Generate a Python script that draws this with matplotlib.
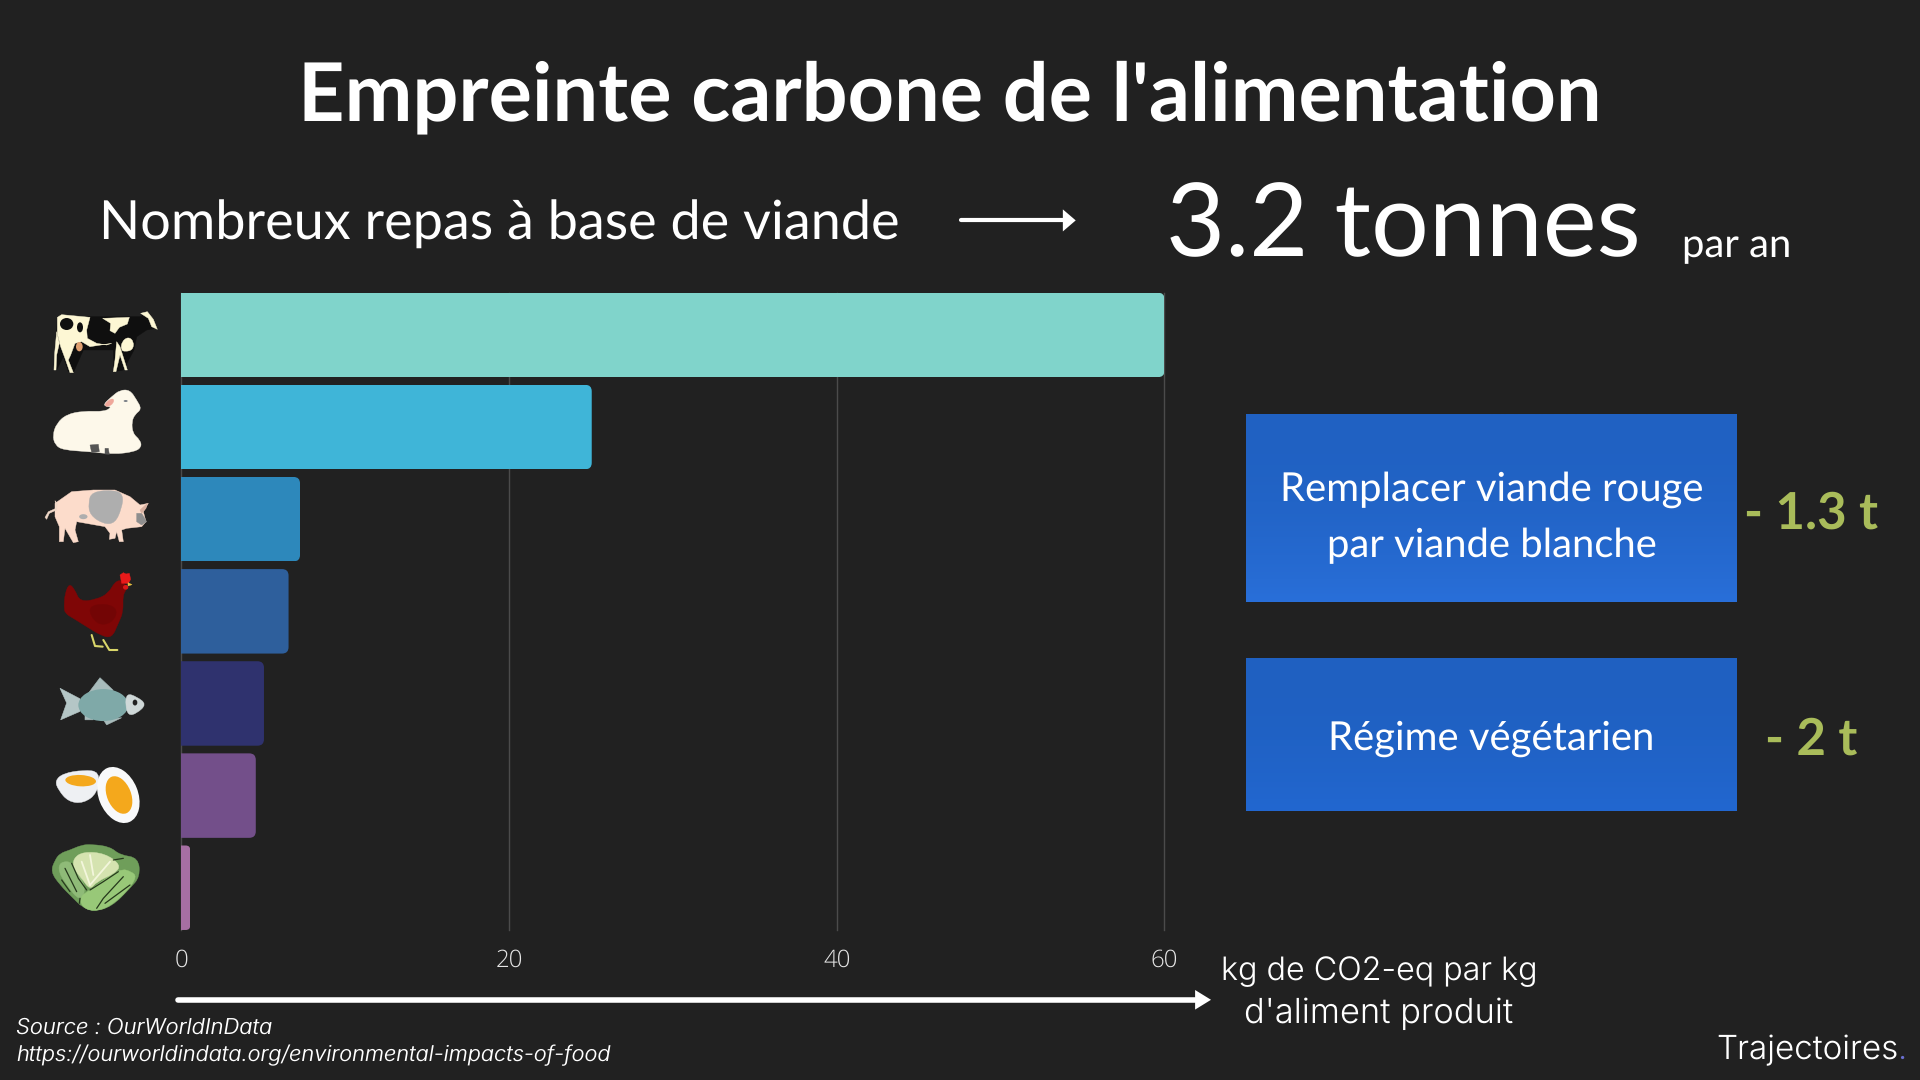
import matplotlib
matplotlib.use("Agg")
import matplotlib.pyplot as plt
from matplotlib.patches import Polygon, Ellipse, FancyBboxPatch, PathPatch
from matplotlib.path import Path
from matplotlib.textpath import TextPath
from matplotlib.font_manager import FontProperties
import numpy as np

plt.rcParams["text.hinting"] = "no_hinting"
plt.rcParams["text.hinting_factor"] = 1

categories = ["Boeuf", "Agneau", "Porc", "Volaille", "Poisson", "Oeufs", "Légumes"]
values = [60.0, 25.05, 7.25, 6.55, 5.05, 4.55, 0.55]
bar_colors = ["#80d4cb", "#3fb5d8", "#2d88bb", "#2e5f9c", "#2f326e", "#734f8a", "#a66fa3"]
xticks = [0, 20, 40, 60]

BG = "#212121"
W, H = 1568.0, 882.0          # layout units of the slide
fig = plt.figure(figsize=(19.2, 10.8), dpi=100, facecolor=BG)

# ---------- main bar chart ----------
L, R, T, B = 148.0, 951.0, 238.9, 759.6
ax = fig.add_axes([L / W, 1 - B / H, (R - L) / W, (B - T) / H], facecolor="none")
ax.set_xlim(0, 60)
ax.set_ylim(6.46, -0.46)
ax.set_axisbelow(True)
ax.xaxis.grid(True, color="#4b4b4b", lw=1.0, clip_on=False)
ax.yaxis.set_visible(False)
for s in ax.spines.values():
    s.set_visible(False)
ax.set_xticks(xticks)
ax.tick_params(axis="x", length=0, pad=13, labelcolor="#e6e6e6", labelsize=17)
for t in ax.get_xticklabels():
    t.set_fontfamily("Open Sans")
    t.set_fontweight(300)
bars = ax.barh(np.arange(len(values)), values, height=0.917, color=bar_colors, zorder=3)
fig.canvas.draw()
for b in bars:
    (x0, y0), (x1, y1) = ax.transData.transform(
        [(b.get_x(), b.get_y() + b.get_height()), (b.get_x() + b.get_width(), b.get_y())])
    r = min(6.5, (x1 - x0) / 2)
    clip = FancyBboxPatch((x0 - 12, y0), x1 - x0 + 12, y1 - y0,
                          boxstyle=f"round,pad=0,rounding_size={r}", transform=None)
    b.set_clip_path(clip)

# ---------- overlay in slide units ----------
ov = fig.add_axes([0, 0, 1, 1], facecolor="none")
ov.set_xlim(0, W)
ov.set_ylim(H, 0)
ov.axis("off")


def fit(s, x0, x1, y, family="Lato", weight="normal", style="normal", color="white", z=6, k=0.992):
    prop = FontProperties(family=family, weight=weight, style=style)
    ext = TextPath((0, 0), s, size=100, prop=prop).get_extents()
    size = (x1 - x0) * 1920 / W / ext.width * 72 * k
    return ov.text((x0 + x1) / 2, y, s, fontproperties=prop, fontsize=size, color=color,
                   ha="center", va="baseline", zorder=z)


fit("Empreinte carbone de l'alimentation", 246, 1306, 98.5, weight="bold", k=1.0)
fit("Nombreux repas à base de viande", 85, 731, 195.8, k=0.997)
fit("3.2 tonnes", 954, 1339, 209.5)
fit("par an", 1374, 1462, 210, k=0.975)


def gradient_box(x0, x1, y0, y1, c0, c1, p=2.0):
    c0 = np.array(matplotlib.colors.to_rgb(c0))
    c1 = np.array(matplotlib.colors.to_rgb(c1))
    grad = (np.linspace(0, 1, 64) ** p)[:, None, None] * (c1 - c0) + c0
    ov.imshow(grad, extent=(x0, x1, y1, y0), aspect="auto", zorder=2)


gradient_box(1017.5, 1418, 338.5, 491.5, "#2061c2", "#296fd9")
gradient_box(1017.5, 1418, 538, 662.5, "#1f60c1", "#2267d0")
ov.set_xlim(0, W)
ov.set_ylim(H, 0)

fit("Remplacer viande rouge", 1046, 1390, 409)
fit("par viande blanche", 1084, 1352, 455)
fit("Régime végétarien", 1086, 1350, 612.5)
OLIVE = "#a9bc5a"
fit("- 1.3 t", 1426, 1532, 432, weight="bold", color=OLIVE, k=1.0)
fit("- 2 t", 1443, 1516, 616, weight="bold", color=OLIVE, k=1.0)

fit("kg de CO2-eq par kg", 997, 1255, 800, family="Inter", weight=300, k=0.985)
fit("d'aliment produit", 1016, 1236, 835.5, family="Inter", weight=300, k=0.99)
fit("Source : OurWorldInData", 14, 222, 844.5, family="Inter", style="italic", weight=300, k=1.0)
fit("https://ourworldindata.org/environmental-impacts-of-food", 13.5, 498.5, 867,
    family="Inter", style="italic", weight=300, k=1.0)
fit("Trajectoires", 1403, 1549, 865, family="Inter", weight=300, k=1.0)
ov.text(1550, 865, ".", color="#6a6fd0", fontsize=18, family="Inter", ha="left", va="baseline")

# arrows
ov.plot([785, 872], [180, 180], color="white", lw=3.0, solid_capstyle="round", zorder=5)
ov.add_patch(Polygon([(868, 171), (878.5, 180), (868, 189)], closed=True, fc="white", ec="none", zorder=5))
ov.plot([145, 980], [816.5, 816.5], color="white", lw=4.0, solid_capstyle="round", zorder=5)
ov.add_patch(Polygon([(976, 808.5), (989, 816.5), (976, 824.5)], closed=True, fc="white", ec="none", zorder=5))


# ---------- food icons (decorative) ----------
S = 1920 / W


def Z(pts):
    p = np.asarray(pts, float)
    return np.c_[p[:, 0] / 3 / S, (p[:, 1] / 2.376 + 280) / S]


def Zc(pts, org):
    p = np.asarray(pts, float)
    return np.c_[(org[0] + p[:, 0] / 3) / S, (org[1] + p[:, 1] / 3) / S]


def smooth_patch(xy, c, z):
    """closed outline drawn with quadratic curves through the edge midpoints"""
    mids = (xy + np.roll(xy, -1, axis=0)) / 2
    verts = [mids[-1]]
    codes = [Path.MOVETO]
    for a, m in zip(xy, mids):
        verts += [a, m]
        codes += [Path.CURVE3, Path.CURVE3]
    ov.add_patch(PathPatch(Path(verts, codes), fc=c, ec=c, lw=0.3, zorder=z))


def poly(pts, c, z=4):
    ov.add_patch(Polygon(Z(pts), closed=True, fc=c, ec=c, lw=0.4, zorder=z))


def pc(pts, org, c, z=4, smooth=False):
    xy = Zc(pts, org)
    if smooth:
        smooth_patch(xy, c, z)
    else:
        ov.add_patch(Polygon(xy, closed=True, fc=c, ec=c, lw=0.3, joinstyle="round", zorder=z))


def ell(cx, cy, w, h, c, a=0, z=4):
    ctr = Z([(cx, cy)])[0]
    ov.add_patch(Ellipse(ctr, w / 3 / S, h / 2.376 / S, angle=a, fc=c, ec="none", zorder=z))


def ellc(cx, cy, w, h, org, c, a=0, z=5):
    ctr = Zc([(cx, cy)], org)[0]
    ov.add_patch(Ellipse(ctr, w / 3 / S, h / 3 / S, angle=a, fc=c, ec="none", zorder=z))


def line(pts, org, c, lw, z=6):
    xy = Zc(pts, org)
    ov.plot(xy[:, 0], xy[:, 1], color=c, lw=lw, zorder=z, solid_capstyle="round")


# cow
o = (40, 300)
CREAM = "#fdf7d4"
DARK = "#0f0f0f"
pc([(52, 50), (300, 50), (320, 40), (350, 85), (320, 90), (290, 110), (282, 150), (250, 210), (222, 215),
    (220, 150), (130, 150), (100, 218), (85, 215), (70, 170), (50, 210), (44, 205), (50, 100)], o, DARK)
pc([(52, 52), (65, 44), (150, 52), (140, 90), (142, 115), (170, 130), (200, 135), (215, 130), (150, 140),
    (125, 125), (105, 130), (92, 165), (85, 180), (100, 218), (90, 218), (75, 175), (62, 140), (52, 100)], o, CREAM, 5)
pc([(50, 95), (58, 130), (50, 165), (48, 210), (42, 210), (44, 160)], o, CREAM, 5)
pc([(188, 55), (268, 52), (262, 72), (238, 82), (225, 100), (210, 92), (212, 70)], o, CREAM, 5)
pc([(245, 125), (265, 110), (282, 125), (278, 150), (255, 155), (243, 150)], o, CREAM, 5, True)
pc([(230, 125), (225, 180), (220, 215), (228, 215), (240, 165), (255, 210), (262, 210), (240, 140)], o, CREAM, 5)
pc([(302, 40), (322, 35), (340, 58), (352, 88), (335, 80), (325, 55)], o, CREAM, 5)
ellc(80, 72, 40, 36, o, DARK, z=6)
ellc(120, 82, 18, 30, o, DARK, z=6)
ellc(118, 140, 20, 28, o, "#e0a070", z=6)

# sheep
o = (40, 385)
SH = "#fdf8ea"
pc([(38, 150), (50, 115), (80, 88), (130, 78), (195, 80), (215, 65), (200, 65), (190, 58), (215, 35), (240, 15),
    (270, 15), (290, 45), (305, 72), (285, 88), (275, 110), (278, 145), (300, 165), (305, 185), (285, 200),
    (220, 208), (150, 200), (70, 195), (45, 180)], o, SH, 4, True)
pc([(150, 180), (175, 178), (178, 200), (155, 203)], o, "#555555", 5)
pc([(195, 190), (205, 190), (208, 208), (195, 207)], o, "#555555", 5)
pc([(192, 62), (205, 45), (222, 40), (220, 55), (205, 65)], o, "#efa79a", 5, True)
ellc(257, 48, 12, 6, o, "#7a8088")

# pig
o = (40, 480)
pc([(45, 70), (95, 35), (160, 30), (225, 30), (270, 50), (300, 75), (325, 70), (310, 95), (318, 125), (305, 140),
    (260, 145), (245, 150), (250, 185), (238, 185), (230, 155), (225, 175), (208, 178), (210, 160), (195, 140),
    (110, 125), (105, 150), (115, 185), (100, 188), (75, 145), (70, 185), (58, 185), (58, 140), (45, 110)], o, "#fcdccb")
pc([(155, 35), (225, 30), (250, 45), (245, 85), (225, 130), (190, 132), (150, 105), (145, 70)], o, "#aeaeae", 5, True)
pc([(290, 100), (305, 100), (320, 125), (305, 135), (290, 125)], o, "#8e8e8e", 5)
pc([(300, 90), (322, 70), (318, 85), (305, 100)], o, "#d8b0a0", 6)
pc([(15, 112), (25, 95), (48, 85), (45, 62), (52, 70), (50, 90), (28, 100), (20, 118)], o, "#f0d8c8", 5)
ellc(130, 110, 25, 15, o, "#aeaeae")

# hen
o = (40, 570)
pc([(72, 110), (75, 70), (88, 40), (105, 60), (120, 95), (170, 88), (205, 70), (225, 35), (245, 30), (262, 55),
    (248, 75), (250, 125), (235, 160), (215, 205), (180, 195), (140, 170), (100, 145), (75, 130)], o, "#7f0606", 4, True)
pc([(140, 110), (200, 100), (235, 120), (215, 160), (170, 165)], o, "#730505", 5, True)
pc([(240, 15), (250, 8), (258, 12), (268, 10), (272, 28), (265, 40), (245, 40)], o, "#e81a1a", 6)
ellc(257, 52, 16, 14, o, "#d81818", z=6)
pc([(264, 38), (276, 44), (264, 48)], o, "#e8c040", 6)
line([(155, 195), (165, 228), (188, 230)], o, "#d9d66a", 1.5)
line([(190, 210), (208, 240), (232, 240)], o, "#d9d66a", 1.5)

# fish
poly([(180, 970), (240, 995), (240, 1025), (182, 1045), (200, 1005)], "#b4c6c6", 4)
poly([(262, 985), (300, 945), (340, 975)], "#a9bcbc", 4)
poly([(255, 1025), (280, 1045), (255, 1045)], "#a9bcbc", 4)
poly([(310, 1045), (365, 1040), (320, 1057)], "#a9bcbc", 4)
ell(310, 1010, 150, 76, "#7fa9a8", z=5)
smooth_patch(Z([(380, 982), (410, 990), (440, 1008), (410, 1030), (385, 1035), (376, 1010)]), "#cfd8d8", 6)
ell(405, 1004, 14, 14, "#222222", z=7)

# eggs
o = (40, 760)
pc([(45, 62), (70, 40), (130, 30), (180, 35), (172, 100), (130, 130), (85, 125), (55, 90)], o, "#eef0f3", 4, True)
ellc(122, 62, 92, 34, o, "#f4a81c", a=3)
ellc(235, 105, 118, 175, o, "#f8f9fa", a=-22, z=6)
ellc(237, 105, 72, 118, o, "#f4a81c", a=-22, z=7)

# lettuce
o = (40, 835)
pc([(32, 110), (45, 75), (60, 55), (90, 45), (125, 30), (155, 28), (210, 35), (240, 60), (295, 68), (300, 125),
    (270, 160), (215, 215), (160, 230), (125, 215), (100, 190), (60, 150)], o, "#6f9e5a", 4, True)
pc([(60, 80), (100, 80), (140, 160), (120, 200), (80, 150), (55, 110)], o, "#8fbb78", 5, True)
pc([(120, 185), (150, 165), (240, 100), (275, 110), (290, 125), (265, 165), (210, 215), (160, 230), (125, 215)],
   o, "#98c878", 5, True)
pc([(100, 70), (130, 50), (195, 55), (243, 90), (225, 115), (170, 140), (150, 165), (125, 130), (100, 100)],
   o, "#d5e3b0", 6, True)
for seg in ([(150, 150), (125, 80)], [(150, 150), (210, 80)], [(160, 120), (150, 60)]):
    line(seg, o, "#f3f6dc", 1.3, 7)
for seg in ([(95, 85), (115, 130), (140, 165)], [(120, 190), (118, 205)], [(65, 135), (90, 170)],
            [(75, 100), (110, 170)], [(170, 220), (190, 190), (250, 125)], [(195, 205), (270, 150)],
            [(150, 165), (190, 140), (235, 110)], [(220, 75), (250, 70)]):
    line(seg, o, "#26381c", 0.9, 8)

fig.savefig("out.png", dpi=100, facecolor=BG)
